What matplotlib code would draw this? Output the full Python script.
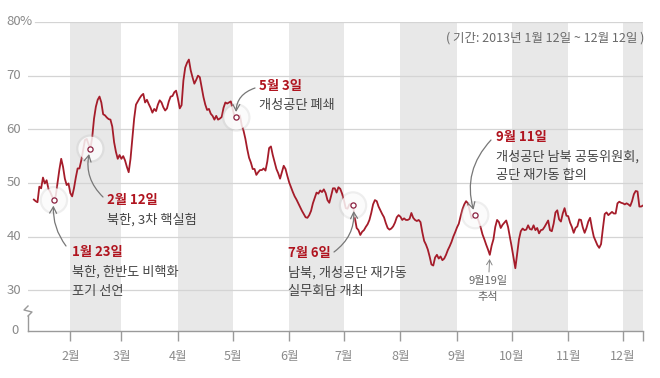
import matplotlib
matplotlib.use('Agg')
import matplotlib.pyplot as plt
import matplotlib.transforms as mtransforms
from matplotlib.lines import Line2D
import numpy as np
import pandas as pd

plt.rcParams['font.family'] = ['Noto Sans CJK KR', 'DejaVu Sans']

# ---------------- data (daily approval rating, %) ----------------
start_date = '2013-01-12'
jan = [46.9, 46.6, 46.4, 49.3, 49.0, 51.0, 49.9, 50.5, 48.9, 48.3, 47.5, 46.8, 47.6, 50.0,
       52.5, 54.5, 53.0, 50.8, 49.6, 49.9]
feb = [48.1, 47.5, 49.0, 51.0, 52.7, 52.7, 54.2, 56.1, 58.0, 58.2, 57.2, 56.4, 58.5, 62.0,
       64.2, 65.5, 66.1, 65.0, 62.8, 62.6, 62.2, 61.9, 61.8, 60.5, 57.6, 55.8, 54.5, 55.2]
mar = [54.5, 55.0, 54.2, 53.0, 52.0, 54.5, 58.2, 62.0, 64.6, 65.2, 65.8, 66.3, 66.6, 65.0,
       65.5, 64.7, 64.0, 63.1, 63.8, 63.4, 64.6, 65.4, 65.0, 64.1, 63.5, 63.9, 65.2, 66.1,
       66.2, 66.9, 67.2]
apr = [65.7, 63.9, 64.5, 69.1, 71.5, 72.4, 73.0, 71.0, 69.7, 68.5, 69.2, 70.0, 69.7, 67.8,
       66.0, 64.6, 63.6, 63.8, 62.9, 62.5, 61.8, 62.5, 61.8, 62.0, 62.3, 64.0, 65.0, 64.8,
       65.0, 65.2]
may = [63.8, 62.4, 62.2, 62.0, 62.6, 60.7, 59.7, 58.2, 56.3, 54.7, 53.8, 52.6, 52.6, 51.5,
       52.0, 52.4, 52.4, 52.7, 52.3, 54.0, 56.5, 56.8, 55.2, 53.9, 52.6, 51.8, 50.8, 52.0,
       53.2, 52.6, 51.3]
jun = [50.1, 49.2, 48.3, 47.5, 46.9, 46.2, 45.5, 44.8, 44.2, 43.6, 43.5, 44.0, 44.8, 46.2,
       47.2, 48.2, 48.0, 48.6, 48.3, 48.8, 48.1, 46.8, 46.3, 47.6, 49.0, 49.0, 48.2, 49.2,
       48.9, 48.0]
jul = [46.8, 45.3, 45.2, 46.0, 46.1, 45.8, 43.5, 41.6, 41.2, 40.3, 40.9, 41.2, 41.8, 42.3,
       43.1, 44.4, 46.0, 46.8, 46.6, 45.6, 44.9, 44.2, 43.6, 42.5, 41.6, 41.3, 41.5, 41.9,
       42.6, 43.6, 44.0]
aug = [43.7, 43.1, 43.4, 43.1, 43.1, 43.3, 44.4, 43.5, 43.1, 42.9, 43.1, 42.7, 40.8, 39.2,
       38.5, 37.6, 36.3, 34.8, 34.6, 36.1, 36.6, 35.9, 36.3, 35.6, 35.9, 36.6, 37.5, 38.2,
       39.0, 40.0, 40.8]
sep = [41.7, 42.4, 43.8, 45.1, 46.0, 46.6, 46.2, 44.8, 43.4, 43.6, 44.0, 43.7, 42.8, 41.7,
       40.4, 39.5, 38.5, 37.6, 36.6, 38.3, 39.5, 41.8, 43.1, 42.7, 41.6, 42.2, 42.6, 43.0,
       41.8, 40.0]
oct_ = [38.1, 36.1, 34.1, 36.8, 39.5, 41.0, 41.5, 41.2, 41.3, 42.1, 41.4, 41.3, 42.1, 41.2,
        41.6, 40.6, 41.2, 41.3, 41.8, 42.4, 43.0, 41.2, 41.0, 42.4, 44.5, 44.9, 43.2, 42.8,
        44.3, 45.3, 43.9]
nov = [43.8, 42.6, 41.8, 40.7, 41.6, 41.9, 43.2, 43.1, 41.7, 40.7, 41.6, 42.8, 43.5, 41.6,
       40.0, 39.2, 38.4, 37.9, 38.6, 41.5, 44.2, 44.5, 44.0, 44.3, 44.6, 44.3, 44.3, 46.2,
       46.5, 46.3]
dec = [46.2, 46.0, 46.2, 46.0, 45.7, 46.6, 47.9, 48.5, 48.4, 45.6, 45.6, 45.8]

values = np.concatenate([jan, feb, mar, apr, may, jun, jul, aug, sep, oct_, nov, dec])
dates = pd.date_range(start_date, periods=len(values), freq='D')
series = pd.Series(values, index=dates)

month_ticks = pd.date_range('2013-02-01', '2013-12-01', freq='MS')
month_labels = ['2월', '3월', '4월', '5월', '6월', '7월', '8월', '9월', '10월', '11월', '12월']
shaded_months = ['2013-02', '2013-04', '2013-06', '2013-08', '2013-10', '2013-12']
y_ticks = [30, 40, 50, 60, 70, 80]
y_labels = ['30', '40', '50', '60', '70', '80']
note = '( 기간: 2013년 1월 12일 ~ 12월 12일 )'

events = [
    ('2013-01-23', '1월 23일', ['북한, 한반도 비핵화', '포기 선언']),
    ('2013-02-12', '2월 12일', ['북한, 3차 핵실험']),
    ('2013-05-03', '5월 3일', ['개성공단 폐쇄']),
    ('2013-07-06', '7월 6일', ['남북, 개성공단 재가동', '실무회담 개최']),
    ('2013-09-11', '9월 11일', ['개성공단 남북 공동위원회,', '공단 재가동 합의']),
]
minor_event = ('2013-09-19', ['9월19일', '추석'])

# ---------------- layout / style ----------------
W, H = 660, 378
RED = '#a51c2a'
DATE_RED = '#b0141f'
GREY_TXT = '#444444'
AX_GREY = '#9a9a9a'
ZERO_POS = 22.4          # where the (broken) zero baseline is drawn

fig = plt.figure(figsize=(W / 100, H / 100), dpi=100)
ax_left, ax_right, ax_bottom, ax_top = 28, 643, 331, 22
ax = fig.add_axes([ax_left / W, 1 - ax_bottom / H, (ax_right - ax_left) / W,
                   (ax_bottom - ax_top) / H])

x_start = pd.Timestamp('2013-01-08 19:00')
x_end = pd.Timestamp('2013-12-12')
ax.set_xlim(x_start, x_end)
ax.set_ylim(ZERO_POS, 80)

# shaded alternate months
for m in shaded_months:
    s = pd.Timestamp(m + '-01')
    e = min(s + pd.offsets.MonthBegin(1), x_end)
    ax.axvspan(s, e, color='#e8e8e8', lw=0, zorder=0)

# horizontal grid
for v in y_ticks:
    xmin = 0.012 if v == 80 else 0.0
    ax.axhline(v, xmin=xmin, xmax=1, color='#d4d4d4', lw=0.9, zorder=1)

# y labels
blend = mtransforms.blended_transform_factory(ax.transAxes, ax.transData)
xl = (21 - ax_left) / (ax_right - ax_left)
for v, lab in zip(y_ticks, y_labels):
    ax.text(xl, v, lab, transform=blend, ha='right', va='center', fontsize=9.5,
            color='#8a8a8a')
ax.text((20 - ax_left) / (ax_right - ax_left), 80, '%', transform=blend, ha='left',
        va='center', fontsize=9.5, color='#8a8a8a')
ax.text((19 - ax_left) / (ax_right - ax_left), ZERO_POS, '0', transform=blend, ha='right',
        va='center', fontsize=9.5, color='#8a8a8a')

# main line
ax.plot(series.index, series.values, color=RED, lw=1.3, zorder=3, solid_joinstyle='round')

# spines / ticks
for sp in ['top', 'right', 'left']:
    ax.spines[sp].set_visible(False)
ax.spines['bottom'].set_color(AX_GREY)
ax.spines['bottom'].set_linewidth(1.0)
ax.set_yticks([])
ax.set_xticks(month_ticks)
ax.set_xticklabels(month_labels)
ax.set_xticks([x_end], minor=True)
ax.tick_params(axis='x', which='both', length=7, width=1, color=AX_GREY,
               labelsize=9, labelcolor='#8a8a8a', pad=7)

# left broken axis stub
def fpx(x, y):
    return x / W, 1 - y / H
xs, ys = zip(*[fpx(28, 331), fpx(28, 316)])
fig.add_artist(Line2D(xs, ys, color=AX_GREY, lw=1.0, transform=fig.transFigure))
zz = [fpx(28, 316), fpx(32, 312), fpx(24, 310), fpx(28, 306)]
xs, ys = zip(*zz)
fig.add_artist(Line2D(xs, ys, color=AX_GREY, lw=1.0, transform=fig.transFigure))

# note
fig.text(644 / W, 1 - 38 / H, note, ha='right', va='center', fontsize=9, color='#6a6a6a')

# events
text_layout = [
    # (date text left, y), arrow start (x, y), rad
    ((72, 252), (66, 246), -0.2),
    ((107, 200), (103, 197), -0.3),
    ((259, 86), (255, 88), 0.4),
    ((288, 253), (334, 252), 0.3),
    ((496, 137), (491, 140), 0.3),
]
line_gap = 19.5
for (d, dtxt, desc), ((tx, ty), (axx, axy), rad) in zip(events, text_layout):
    dt = pd.Timestamp(d)
    val = series[dt]
    ax.scatter([dt], [val], s=420, facecolor='#bdbdbd', edgecolor='none', alpha=0.25, zorder=4)
    ax.scatter([dt], [val], s=300, facecolor='white', edgecolor='none', alpha=0.8, zorder=4)
    ax.scatter([dt], [val], s=14, facecolor='white', edgecolor='#8a2040', lw=0.9, zorder=6)
    fig.text(tx / W, 1 - ty / H, dtxt, ha='left', va='center', fontsize=9.5,
             fontweight='bold', color=DATE_RED)
    for i, line in enumerate(desc):
        fig.text(tx / W, 1 - (ty + line_gap * (i + 1)) / H, line, ha='left', va='center',
                 fontsize=9.5, color=GREY_TXT)
    ax.annotate('', xy=(dt, val), xycoords='data', xytext=(axx, H - axy),
                textcoords='figure pixels',
                arrowprops=dict(arrowstyle='->,head_length=0.45,head_width=0.25',
                                color='#777777', lw=0.9, shrinkA=0, shrinkB=4,
                                connectionstyle='arc3,rad=%s' % rad), zorder=5)

# minor event (Chuseok)
d, lines = minor_event
dt = pd.Timestamp(d)
val = series[dt]
for i, line in enumerate(lines):
    fig.text(488 / W, 1 - (281 + 16 * i) / H, line, ha='center', va='center', fontsize=8,
             color='#666666')
ax.annotate('', xy=(dt, val), xycoords='data', xytext=(489, H - 272),
            textcoords='figure pixels',
            arrowprops=dict(arrowstyle='->,head_length=0.35,head_width=0.2', color='#888888',
                            lw=0.7, shrinkA=0, shrinkB=3), zorder=5)

fig.savefig('out.png', dpi=100)
